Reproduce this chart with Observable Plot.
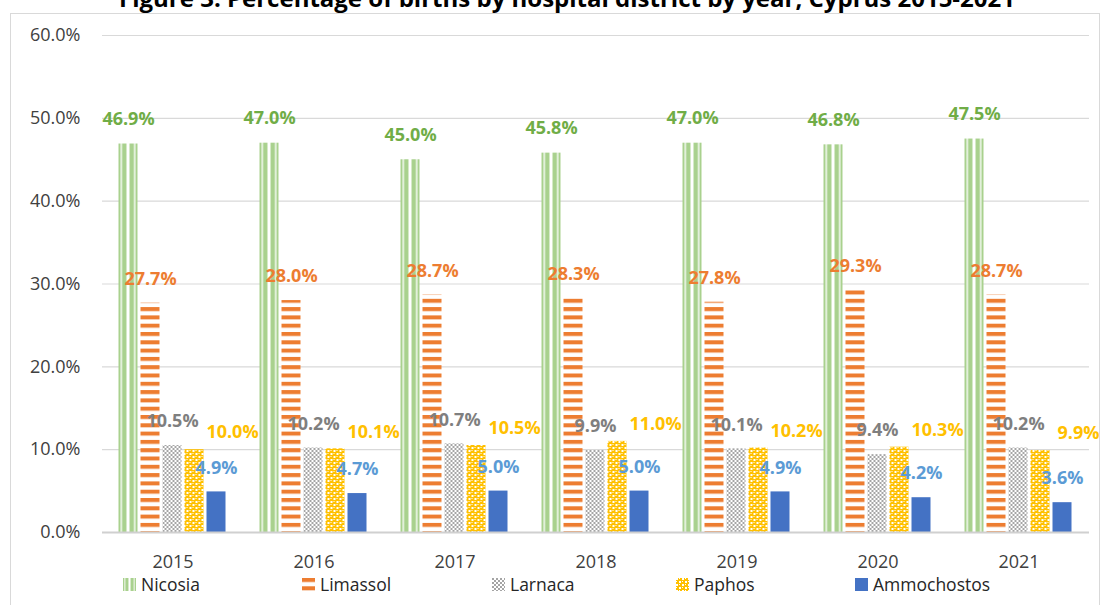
<!DOCTYPE html>
<html>
<head>
<meta charset="utf-8">
<script src="https://cdn.jsdelivr.net/npm/d3@7"></script>
<script src="https://cdn.jsdelivr.net/npm/@observablehq/plot@0.6"></script>
<style>
  html, body { margin: 0; padding: 0; background: #fff; overflow: hidden; }
  body { width: 1111px; height: 605px; position: relative; font-family: "Open Sans", sans-serif; }
  #frame { position: absolute; left: 10px; top: 13px; width: 1090px; height: 640px; border: 1px solid #d9d9d9; box-sizing: border-box; }
  #title { position: absolute; left: 0; width: 1134px; top: -14px; text-align: center; font-size: 24px; line-height: 24px; font-weight: 700; color: #000; white-space: nowrap; }
  #chart { position: absolute; left: 0; top: 0; }
  #legend { position: absolute; left: 123px; top: 572px; display: flex; align-items: center; font-size: 17.5px; color: #262626; }
  .item { display: flex; align-items: center; }
  .item svg { margin-right: 5px; }
</style>
</head>
<body>
<svg width="0" height="0" style="position:absolute">
  <defs>
    <pattern id="pat-nicosia" patternUnits="objectBoundingBox" patternContentUnits="objectBoundingBox" width="1" height="1">
      <rect x="0" y="0" width="1" height="1" fill="#A9D18E"></rect>
      <rect x="0.11" y="0" width="0.07" height="1" fill="#ffffff"></rect>
      <rect x="0.42" y="0" width="0.16" height="1" fill="#ffffff"></rect>
      <rect x="0.82" y="0" width="0.07" height="1" fill="#ffffff"></rect>
    </pattern>
    <pattern id="pat-limassol" patternUnits="userSpaceOnUse" width="8" height="8.3">
      <rect x="0" y="0" width="8" height="8.3" fill="#ffffff"></rect>
      <rect x="0" y="0" width="8" height="4" fill="#ED7D31"></rect>
    </pattern>
    <pattern id="pat-larnaca" patternUnits="userSpaceOnUse" width="4" height="4">
      <rect x="0" y="0" width="4" height="4" fill="#ffffff"></rect>
      <rect x="0" y="0" width="2" height="2" fill="#A5A5A5"></rect>
      <rect x="2" y="2" width="2" height="2" fill="#A5A5A5"></rect>
    </pattern>
    <pattern id="pat-paphos" patternUnits="userSpaceOnUse" width="6" height="6">
      <rect x="0" y="0" width="6" height="6" fill="#FFC000"></rect>
      <rect x="0" y="0" width="2" height="2" fill="#ffffff"></rect>
      <rect x="3" y="3" width="2" height="2" fill="#ffffff"></rect>
      <rect x="3" y="0" width="1" height="1" fill="#ffffff"></rect>
      <rect x="0" y="3" width="1" height="1" fill="#ffffff"></rect>
    </pattern>
  </defs>
</svg>
<div id="frame"></div>
<div id="title">Figure 3. Percentage of births by hospital district by year, Cyprus 2015-2021</div>
<div id="chart"></div>
<div id="legend"></div>
<script>
// ---- data ----
const years = ["2015", "2016", "2017", "2018", "2019", "2020", "2021"];
const districts = ["Nicosia", "Limassol", "Larnaca", "Paphos", "Ammochostos"];
const nicosia     = [46.9, 47.0, 45.0, 45.8, 47.0, 46.8, 47.5];
const limassol    = [27.7, 28.0, 28.7, 28.3, 27.8, 29.3, 28.7];
const larnaca     = [10.5, 10.2, 10.7, 9.9, 10.1, 9.4, 10.2];
const paphos      = [10.0, 10.1, 10.5, 11.0, 10.2, 10.3, 9.9];
const ammochostos = [4.9, 4.7, 5.0, 5.0, 4.9, 4.2, 3.6];
const yTicks = [0, 10, 20, 30, 40, 50, 60];

// ---- styles ----
const series = [nicosia, limassol, larnaca, paphos, ammochostos];
const fills = {
  Nicosia: "url(#pat-nicosia)",
  Limassol: "url(#pat-limassol)",
  Larnaca: "url(#pat-larnaca)",
  Paphos: "url(#pat-paphos)",
  Ammochostos: "#4472C4"
};
const labelColors = {
  Nicosia: "#70AD47",
  Limassol: "#ED7D31",
  Larnaca: "#7F7F7F",
  Paphos: "#FFC000",
  Ammochostos: "#5B9BD5"
};
const labelOffsets = {
  Nicosia: {dx: 0, dy: -25},
  Limassol: {dx: 0, dy: -24},
  Larnaca: {dx: 0, dy: -24},
  Paphos: {dx: 38, dy: -17},
  Ammochostos: {dx: 0, dy: -24}
};

const table = [];
districts.forEach((d, i) => {
  years.forEach((y, j) => table.push({year: y, district: d, value: series[i][j]}));
});

const pct = v => v.toFixed(1) + "%";

const chart = Plot.plot({
  width: 1111,
  height: 565,
  marginLeft: 101.5,
  marginRight: 22.5,
  marginTop: 35,
  marginBottom: 33,
  style: {fontFamily: "'Open Sans', sans-serif", fontSize: "18px", color: "#404040", background: "transparent", overflow: "visible"},
  fx: {domain: years, padding: 0, label: null, axis: "bottom", tickSize: 0, tickPadding: 23},
  x: {domain: districts, axis: null, paddingInner: 0.12, paddingOuter: 0.76},
  y: {domain: [0, 60], ticks: yTicks, tickFormat: pct, label: null, tickSize: 0, tickPadding: 22},
  color: {type: "identity"},
  marks: [
    Plot.ruleY(yTicks.filter(t => t > 0), {stroke: "#d9d9d9", strokeWidth: 1.2}),
    Plot.barY(table, {fx: "year", x: "district", y: "value", fill: d => fills[d.district]}),
    Plot.ruleY([0], {stroke: "#d0d0d0", strokeWidth: 2}),
    ...districts.map(name => Plot.text(table.filter(d => d.district === name), {
      fx: "year", x: "district", y: "value",
      text: d => pct(d.value),
      fill: labelColors[name],
      fontWeight: "bold",
      fontSize: 18,
      lineAnchor: "middle",
      dx: labelOffsets[name].dx,
      dy: labelOffsets[name].dy
    }))
  ]
});
document.getElementById("chart").appendChild(chart);

// ---- legend ----
const legendWidths = [179, 190, 184, 179, null];
const legend = document.getElementById("legend");
districts.forEach((name, i) => {
  const item = document.createElement("div");
  item.className = "item";
  if (legendWidths[i]) item.style.width = legendWidths[i] + "px";
  const sw = fills[name];
  item.innerHTML = `<svg width="13" height="13"><rect x="0" y="0" width="13" height="13" fill="${sw}"></rect></svg><span>${name}</span>`;
  legend.appendChild(item);
});
</script>
</body>
</html>
